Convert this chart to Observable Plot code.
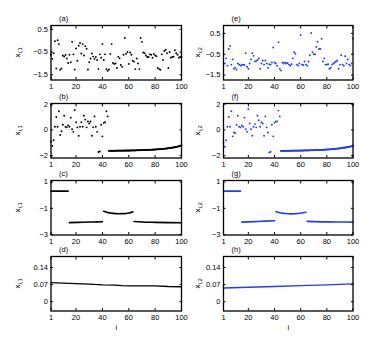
<!DOCTYPE html>
<html><head><meta charset="utf-8">
<script src="https://cdn.jsdelivr.net/npm/d3@7"></script>
<script src="https://cdn.jsdelivr.net/npm/@observablehq/plot@0.6"></script>
<style>
body{margin:0;background:#fff;}
#chart{position:relative;width:390px;height:349px;overflow:hidden;font-family:"Liberation Sans",Arial,sans-serif;}
#chart svg{position:absolute;}
</style></head><body><div id="chart"></div>
<script>
const iTicks = [1,20,40,60,80,100];
const ticksA = [-1.5,-0.5,0.5];
const labelsA = ["\u22121.5","\u22120.5","0.5"];
const ticksB = [-2,0,2];
const labelsB = ["\u22122","0","2"];
const ticksC = [-3,-1,1];
const labelsC = ["\u22123","\u22121","1"];
const ticksD = [0,0.07,0.14];
const labelsD = ["0","0.07","0.14"];

const a_vals = [-0.62,-0.80,-0.55,-0.02,-1.22,0.02,-0.15,-1.28,-1.22,-0.65,
 -0.70,-0.63,-0.78,-0.98,-0.62,-0.95,-0.05,-0.60,-1.27,-0.34,
 -0.88,-0.22,-0.10,-0.56,-0.15,-0.65,-0.24,-0.35,-1.27,-0.95,
 -0.78,-0.56,-0.70,-0.80,-0.72,-0.85,-1.25,-0.60,-0.75,-0.15,
 -0.85,-0.60,-1.25,-1.32,-1.27,-0.58,-0.15,-0.98,-1.02,-1.00,
 -1.20,-0.70,-0.77,-1.07,-1.15,-0.62,0.12,-0.58,-0.50,-1.02,
 -0.52,-0.62,-0.88,-0.92,-1.25,-0.78,-1.00,-1.25,0.12,-0.05,
 -0.52,-0.55,-0.65,-0.72,-0.72,-0.60,-0.62,-0.75,-0.58,-0.65,
 -0.68,-1.20,-1.25,-1.28,-0.60,-0.85,-0.45,-0.40,-0.55,-1.20,
 -0.50,-0.75,-0.72,-0.70,-0.42,-0.55,-0.62,-0.75,-0.72,-0.72];

const e_vals = [0.48,-0.95,-0.70,-1.05,-0.25,-0.10,-1.00,-0.75,-1.20,-1.15,
 -1.25,-0.95,-1.00,-1.05,-1.02,-1.00,-1.02,-0.45,-1.10,-1.20,
 -0.95,-0.75,-0.45,-0.58,-0.85,-0.82,-0.78,-0.70,-1.20,-0.95,
 -0.80,-1.00,-0.80,-0.95,-1.15,-0.98,-1.00,-0.90,-0.18,-0.90,
 -0.95,-1.05,0.08,-1.20,-1.28,-0.90,-0.95,-0.90,-0.95,-0.92,
 -1.00,-1.05,-0.98,-0.70,-0.40,-0.48,-1.00,-1.05,-0.95,0.42,
 -1.00,-1.02,-0.85,-1.00,-1.05,-0.85,-0.55,0.52,-0.40,-0.50,
 -0.50,-0.15,0.10,-0.25,-0.25,0.24,-0.85,-0.70,-1.00,-1.00,
 -0.98,-1.20,-1.15,-1.00,-0.95,-0.90,-0.85,-0.80,-1.20,-1.00,
 -0.55,-1.00,-1.05,-0.60,-0.95,-0.75,-1.00,-1.05,-0.95,0.25];

const b_scatter = [-0.90,-1.25,-0.80,0.25,1.00,0.25,1.45,-0.40,-0.10,0.40,
 1.10,0.25,0.20,0.35,0.25,0.95,0.05,-0.15,1.55,0.60,
 0.20,-0.45,0.25,0.60,0.25,1.10,0.80,0.20,0.65,0.50,
 0.65,-0.45,0.20,1.05,0.25,-0.15,-1.72,-1.68,0.40,-0.50,
 0.55,0.60,1.45,1.05];
const b_curve = [-1.62,-1.62,-1.62,-1.62,-1.62,-1.62,-1.61,-1.61,-1.61,-1.61,
 -1.61,-1.61,-1.60,-1.60,-1.60,-1.60,-1.60,-1.59,-1.59,-1.59,
 -1.59,-1.58,-1.58,-1.58,-1.57,-1.57,-1.57,-1.56,-1.56,-1.55,
 -1.55,-1.54,-1.54,-1.53,-1.53,-1.52,-1.51,-1.50,-1.50,-1.49,
 -1.48,-1.47,-1.46,-1.45,-1.44,-1.42,-1.41,-1.39,-1.38,-1.36,
 -1.34,-1.32,-1.30,-1.27,-1.24,-1.20];

const f_scatter = [-1.00,-1.30,-0.80,0.25,1.00,0.25,1.45,-0.50,-0.20,-0.25,
 0.40,1.10,0.25,0.20,0.35,0.25,0.95,0.05,-0.15,1.60,
 0.50,0.05,-0.45,0.25,0.45,0.20,1.10,0.75,0.25,0.60,
 0.50,-0.45,1.05,0.20,-0.20,-1.75,-1.70,0.40,-0.50,0.55,
 0.65,0.65,1.50,1.05];
const f_curve = [-1.63,-1.63,-1.63,-1.63,-1.62,-1.62,-1.62,-1.62,-1.62,-1.61,
 -1.61,-1.61,-1.61,-1.61,-1.60,-1.60,-1.60,-1.60,-1.59,-1.59,
 -1.59,-1.59,-1.58,-1.58,-1.58,-1.57,-1.57,-1.56,-1.56,-1.56,
 -1.55,-1.55,-1.54,-1.54,-1.53,-1.52,-1.52,-1.51,-1.50,-1.49,
 -1.48,-1.47,-1.46,-1.45,-1.44,-1.43,-1.41,-1.40,-1.38,-1.37,
 -1.35,-1.33,-1.31,-1.29,-1.26,-1.22];

const c_i   = [1,14, 15,25,33,40, 41,44,48,52,56,60,63, 64,70,80,90,100];
const c_v   = [0.31,0.31, -2.09,-2.06,-2.04,-2.02, -1.22,-1.32,-1.38,-1.41,-1.40,-1.35,-1.27, -2.00,-2.04,-2.07,-2.09,-2.10];
const c_seg = [1,1, 2,2,2,2, 3,3,3,3,3,3,3, 4,4,4,4,4];

const g_i   = [1,14, 15,25,33,40, 41,44,48,52,56,60,64, 65,70,80,90,100];
const g_v   = [0.31,0.31, -2.05,-2.01,-1.97,-1.94, -1.24,-1.34,-1.39,-1.42,-1.41,-1.37,-1.30, -1.99,-2.01,-2.03,-2.04,-2.05];
const g_seg = [1,1, 2,2,2,2, 3,3,3,3,3,3,3, 4,4,4,4,4];

const d_i = [1,10,20,30,40,50,55,60,70,80,90,100];
const d_v = [0.078,0.076,0.074,0.072,0.069,0.068,0.066,0.065,0.065,0.065,0.062,0.061];
const h_i = [1,20,40,60,80,100];
const h_v = [0.056,0.059,0.062,0.066,0.069,0.073];

const BLUE = "#1f3cff";
const container = document.getElementById("chart");

const indexed = (vals, start) => vals.map((v, k) => ({i: start + k, v}));
const pairs = (is, vs, ss) => is.map((i, k) => ({i, v: vs[k], s: ss ? ss[k] : 0}));

const cols = [
  {left: 0, ml: 50.5, mr: 14, ylabX: 20, sub: "1"},
  {left: 195, ml: 28, mr: 37.5, ylabX: 5, sub: "2"}
];
const rows = [
  {top: 25, ticks: ticksA, labels: labelsA},
  {top: 103, ticks: ticksB, labels: labelsB, domain: [-2.18, 2.05]},
  {top: 179.5, ticks: ticksC, labels: labelsC, domain: [-3.03, 1.12]},
  {top: 256, ticks: ticksD, labels: labelsD, domain: [-0.038, 0.185]}
];
const H = 54.5, MT = 25, MB = 25;
const noText = {text: null, tickFormat: () => "", label: null};

function panel(c, r, domain, label, color, marks, bottom) {
  const col = cols[c], row = rows[r];
  const w = 195;
  const svg = Plot.plot({
    width: w, height: H + MT + MB,
    marginLeft: col.ml, marginRight: col.mr, marginTop: MT, marginBottom: MB,
    style: {background: "transparent", overflow: "visible", fontSize: "7.5px",
            fontFamily: "Liberation Sans, Arial, sans-serif", color: "black"},
    x: {domain: [1, 100]},
    y: {domain},
    marks: [
      ...marks,
      Plot.frame({stroke: "black", strokeWidth: 1.3}),
      Plot.axisX(iTicks, {anchor: "bottom", tickSize: 0, tickPadding: 4, tickFormat: d => String(d), label: null}),
      Plot.axisX(iTicks, {anchor: "bottom", tickSize: 2.5, dy: -2.5, ...noText}),
      Plot.axisX(iTicks, {anchor: "top", tickSize: 2.5, dy: 2.5, ...noText}),
      Plot.axisY(row.ticks, {anchor: "left", tickSize: 0, tickPadding: 3, label: null,
        tickFormat: d => row.labels[row.ticks.indexOf(d)]}),
      Plot.axisY(row.ticks, {anchor: "left", tickSize: 2.5, dx: 2.5, ...noText}),
      Plot.axisY(row.ticks, {anchor: "right", tickSize: 2.5, dx: -2.5, ...noText}),
      Plot.text([label], {frameAnchor: "top-left", dx: 8, dy: -7, lineAnchor: "middle", fontSize: 7.5}),
      bottom ? Plot.text(["i"], {frameAnchor: "bottom", dy: 17, lineAnchor: "middle", fontSize: 7.5}) : null
    ]
  });
  svg.style.left = col.left + "px";
  svg.style.top = (row.top - MT) + "px";
  const t = d3.select(svg).append("text")
    .attr("transform", `translate(${col.ylabX},${MT + H / 2}) rotate(-90)`)
    .attr("text-anchor", "middle")
    .attr("font-size", 8)
    .attr("fill", "black")
    .attr("font-family", "Liberation Sans, Arial, sans-serif");
  t.append("tspan").text("x");
  t.append("tspan").attr("font-size", 6).attr("dy", 2).text("i," + col.sub);
  container.appendChild(svg);
}

const dotOpts = (color) => ({x: "i", y: "v", r: 0.95, fill: color});

panel(0, 0, [-1.73, 0.67], "(a)", "black", [
  Plot.dot(indexed(a_vals, 1), dotOpts("black"))
]);
panel(1, 0, [-1.74, 0.88], "(e)", BLUE, [
  Plot.dot(indexed(e_vals, 1), dotOpts(BLUE))
]);
panel(0, 1, rows[1].domain, "(b)", "black", [
  Plot.dot(indexed(b_scatter, 1), dotOpts("black")),
  Plot.line(indexed(b_curve, b_scatter.length + 1), {x: "i", y: "v", stroke: "black", strokeWidth: 1.7}),
  Plot.dot(indexed(b_curve, b_scatter.length + 1), dotOpts("black"))
]);
panel(1, 1, rows[1].domain, "(f)", BLUE, [
  Plot.dot(indexed(f_scatter, 1), dotOpts(BLUE)),
  Plot.line(indexed(f_curve, f_scatter.length + 1), {x: "i", y: "v", stroke: BLUE, strokeWidth: 1.7}),
  Plot.dot(indexed(f_curve, f_scatter.length + 1), dotOpts(BLUE))
]);
panel(0, 2, rows[2].domain, "(c)", "black", [
  Plot.line(pairs(c_i, c_v, c_seg), {x: "i", y: "v", z: "s", stroke: "black", strokeWidth: 1.6, curve: "monotone-x"})
]);
panel(1, 2, rows[2].domain, "(g)", BLUE, [
  Plot.line(pairs(g_i, g_v, g_seg), {x: "i", y: "v", z: "s", stroke: BLUE, strokeWidth: 1.6, curve: "monotone-x"})
]);
panel(0, 3, rows[3].domain, "(d)", "black", [
  Plot.line(pairs(d_i, d_v), {x: "i", y: "v", stroke: "black", strokeWidth: 1.4})
], true);
panel(1, 3, rows[3].domain, "(h)", BLUE, [
  Plot.line(pairs(h_i, h_v), {x: "i", y: "v", stroke: BLUE, strokeWidth: 1.4})
], true);
</script>
</body></html>
